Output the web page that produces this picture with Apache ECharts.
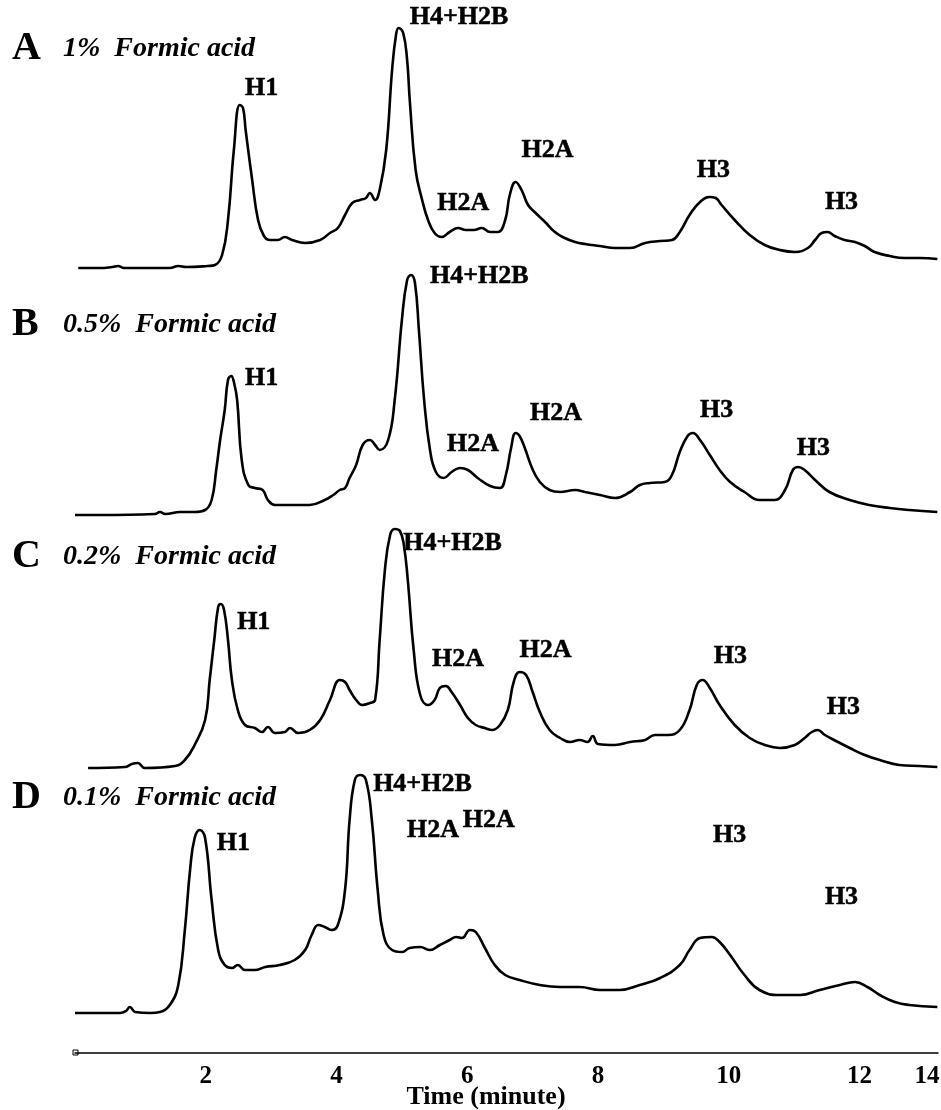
<!DOCTYPE html>
<html><head><meta charset="utf-8">
<script src="https://cdn.jsdelivr.net/npm/echarts@6/dist/echarts.min.js"></script>
<style>html,body{margin:0;padding:0;background:#fff}#c{width:941px;height:1110px}</style>
</head><body><div id="c"></div>
<script>
// Time axis tick labels (minutes)
const tickLabels = [2, 4, 6, 8, 10, 12];
const endLabel = '14';

// Chromatogram traces: [time (min), signal (arb. units above panel floor)]
const traceA = [[0.05,7],[0.38,7],[0.57,8],[0.66,9],[0.75,7],[1.45,7],[1.58,9],[1.70,8],[2.03,9],[2.14,10],[2.25,20],[2.34,55],[2.43,125],[2.52,170],[2.57,167],[2.61,145],[2.71,95],[2.80,55],[2.89,39],[2.98,35],[3.10,35],[3.21,38],[3.32,35],[3.52,32],[3.75,35],[3.90,42],[4.02,47],[4.13,60],[4.24,72],[4.36,75],[4.45,77],[4.51,82],[4.59,75],[4.66,85],[4.76,125],[4.85,205],[4.91,240],[4.95,247],[5.02,242],[5.08,215],[5.12,175],[5.21,105],[5.31,75],[5.40,55],[5.50,42],[5.61,38],[5.73,43],[5.86,47],[5.98,45],[6.10,45],[6.22,47],[6.35,43],[6.47,43],[6.58,55],[6.65,80],[6.74,93],[6.83,85],[6.93,70],[7.03,63],[7.19,53],[7.34,43],[7.49,37],[7.65,33],[7.80,31],[8.03,29],[8.26,27],[8.49,27],[8.72,32],[8.95,34],[9.13,35],[9.25,43],[9.40,60],[9.56,73],[9.71,78],[9.80,77],[9.89,70],[10.09,55],[10.32,40],[10.55,30],[10.78,25],[11.01,23],[11.21,27],[11.32,35],[11.42,42],[11.51,43],[11.62,39],[11.77,35],[11.93,33],[12.08,29],[12.23,23],[12.46,19],[12.69,17],[12.92,17],[13.19,16]];
const traceB = [[0.0,5],[0.38,5],[1.22,6],[1.30,8],[1.38,6],[1.61,8],[1.83,8],[1.99,10],[2.09,20],[2.16,50],[2.22,80],[2.29,110],[2.34,140],[2.39,144],[2.43,138],[2.48,120],[2.55,60],[2.65,35],[2.75,32],[2.87,30],[2.95,20],[3.06,15],[3.29,15],[3.59,15],[3.82,20],[3.95,25],[4.05,30],[4.13,32],[4.20,42],[4.30,55],[4.40,75],[4.51,80],[4.59,75],[4.66,70],[4.79,80],[4.89,120],[5.00,200],[5.08,240],[5.14,245],[5.20,237],[5.26,190],[5.34,120],[5.43,70],[5.52,48],[5.64,42],[5.76,48],[5.89,52],[6.01,50],[6.16,42],[6.35,34],[6.50,32],[6.59,45],[6.67,72],[6.74,87],[6.80,84],[6.88,72],[6.99,52],[7.11,38],[7.26,30],[7.42,28],[7.65,30],[7.80,28],[8.03,25],[8.26,22],[8.49,28],[8.64,35],[8.79,37],[9.02,38],[9.13,45],[9.25,68],[9.37,84],[9.45,87],[9.56,80],[9.71,65],[9.86,50],[10.02,38],[10.24,28],[10.47,20],[10.70,20],[10.86,30],[10.98,50],[11.06,53],[11.16,50],[11.32,40],[11.54,28],[11.85,20],[12.15,15],[12.46,12],[12.76,10],[13.19,8]];
const traceC = [[0.20,7],[0.76,8],[0.87,11],[0.96,12],[1.07,7],[1.53,9],[1.68,15],[1.83,30],[1.99,55],[2.06,95],[2.13,135],[2.19,168],[2.23,171],[2.28,165],[2.34,135],[2.40,95],[2.49,65],[2.60,50],[2.75,47],[2.86,43],[2.95,48],[3.06,42],[3.21,43],[3.29,47],[3.41,42],[3.59,45],[3.75,55],[3.90,75],[4.05,95],[4.13,93],[4.20,85],[4.30,75],[4.39,70],[4.51,72],[4.59,75],[4.66,135],[4.74,205],[4.82,240],[4.89,246],[4.97,244],[5.03,230],[5.09,195],[5.18,125],[5.28,80],[5.40,70],[5.50,75],[5.58,87],[5.67,89],[5.76,83],[5.89,70],[6.01,57],[6.13,50],[6.27,47],[6.38,45],[6.50,50],[6.62,65],[6.71,93],[6.80,103],[6.90,100],[7.00,83],[7.11,63],[7.26,45],[7.42,37],[7.57,33],[7.72,35],[7.84,33],[7.92,39],[8.00,31],[8.26,30],[8.49,33],[8.72,35],[8.87,40],[9.07,40],[9.25,45],[9.40,65],[9.51,90],[9.60,95],[9.71,87],[9.86,70],[10.09,50],[10.32,37],[10.55,30],[10.78,27],[11.01,30],[11.16,37],[11.27,43],[11.36,45],[11.47,40],[11.67,33],[11.85,27],[12.08,20],[12.31,15],[12.61,10],[12.92,9],[13.19,8]];
const traceD = [[0.00,40],[0.69,40],[0.78,42],[0.84,46],[0.92,41],[1.15,40],[1.30,41],[1.45,48],[1.58,68],[1.68,123],[1.76,183],[1.83,215],[1.91,223],[1.99,215],[2.09,153],[2.19,103],[2.29,88],[2.40,85],[2.49,88],[2.60,83],[2.75,83],[2.91,86],[3.13,88],[3.36,93],[3.52,103],[3.62,118],[3.72,128],[3.82,126],[3.93,123],[4.02,128],[4.13,163],[4.20,233],[4.28,273],[4.36,278],[4.45,273],[4.54,233],[4.63,163],[4.72,118],[4.85,103],[5.00,101],[5.12,105],[5.28,106],[5.43,103],[5.58,108],[5.73,113],[5.83,116],[5.92,115],[6.04,123],[6.13,121],[6.27,105],[6.42,88],[6.58,78],[6.80,73],[7.11,68],[7.42,66],[7.72,66],[8.03,63],[8.33,63],[8.64,68],[8.95,75],[9.25,88],[9.40,103],[9.56,115],[9.74,116],[9.86,111],[10.02,98],[10.24,78],[10.47,63],[10.78,58],[11.09,58],[11.39,63],[11.70,68],[11.93,71],[12.12,66],[12.31,58],[12.54,51],[12.76,48],[13.19,46]];

// Peak annotations: [label, time of label's left edge, signal at label centre]
const peaksA = [['H1',2.60,187],['H4+H2B',5.12,258],['H2A',5.54,72],['H2A',6.83,125],['H3',9.51,105],['H3',11.47,73]];
const peaksB = [['H1',2.60,142],['H4+H2B',5.43,244],['H2A',5.69,76],['H2A',6.96,107],['H3',9.56,110],['H3',11.04,72]];
const peaksC = [['H1',2.48,153],['H4+H2B',5.02,232],['H2A',5.46,116],['H2A',6.80,125],['H3',9.77,119],['H3',11.50,68]];
const peaksD = [['H1',2.17,210],['H4+H2B',4.56,269],['H2A',5.08,223],['H2A',5.93,233],['H3',9.76,218],['H3',11.47,156]];

const panelLetters = ['A', 'B', 'C', 'D'];
const conditions = ['1%  Formic acid', '0.5%  Formic acid', '0.2%  Formic acid', '0.1%  Formic acid'];
const traces = [traceA, traceB, traceC, traceD];
const peaks = [peaksA, peaksB, peaksC, peaksD];

// ---- layout (pixels) ----
const SERIF = "'Liberation Serif', 'Times New Roman', 'DejaVu Serif', serif";
const gridBox = [
  {top: 20, height: 255, ymax: 255},
  {top: 265, height: 255, ymax: 255},
  {top: 520, height: 255, ymax: 255},
  {top: 763, height: 290, ymax: 290}
];
const titleY = [49, 325, 557, 798];
const X_MIN = 0, X_MAX = 13.2, LEFT = 75, RIGHT = 3;

const grid = [], xAxis = [], yAxis = [], series = [], graphic = [];
gridBox.forEach((g, i) => {
  grid.push({left: LEFT, right: RIGHT, top: g.top, height: g.height});
  xAxis.push({type: 'value', gridIndex: i, min: X_MIN, max: X_MAX, show: false});
  yAxis.push({type: 'value', gridIndex: i, min: 0, max: g.ymax, show: false});
  series.push({
    type: 'line', xAxisIndex: i, yAxisIndex: i, data: traces[i],
    showSymbol: false, smooth: 0.45, clip: false,
    lineStyle: {color: '#000', width: 2.6}, animation: false
  });
  series.push({
    type: 'scatter', xAxisIndex: i, yAxisIndex: i, symbolSize: 0, clip: false, animation: false,
    itemStyle: {color: '#000', opacity: 1},
    data: peaks[i].map(p => ({name: p[0], value: [p[1], p[2]]})),
    label: {show: true, position: 'right', distance: 0, formatter: '{b}', color: '#000', opacity: 1,
      textBorderColor: '#000', textBorderWidth: 0.5,
      fontFamily: SERIF, fontWeight: 'bold', fontSize: 26},
    silent: true
  });
  graphic.push({type: 'text', x: 12, y: titleY[i],
    style: {text: panelLetters[i], font: "bold 40px " + SERIF, fill: '#000', textVerticalAlign: 'middle'}});
  graphic.push({type: 'text', x: 63, y: titleY[i],
    style: {text: conditions[i], font: "italic bold 28px " + SERIF, fill: '#000', textVerticalAlign: 'middle'}});
});

// bottom time axis
grid.push({left: LEFT, right: RIGHT, top: 1013, height: 40});
xAxis.push({
  type: 'value', gridIndex: 4, min: X_MIN, max: X_MAX, interval: 2,
  axisLine: {show: true, lineStyle: {color: '#000', width: 1.5}},
  axisTick: {show: false}, splitLine: {show: false},
  axisLabel: {color: '#000', fontFamily: SERIF, fontWeight: 'bold', fontSize: 25, margin: 11,
    formatter: v => (tickLabels.indexOf(v) >= 0 ? String(v) : '')}
});
yAxis.push({type: 'value', gridIndex: 4, min: 0, max: 1, show: false});
graphic.push({type: 'rect', shape: {x: 73, y: 1050, width: 5, height: 5},
  style: {fill: '#fff', stroke: '#000', lineWidth: 1}});
graphic.push({type: 'text', x: 927, y: 1064,
  style: {text: endLabel, font: "bold 25px " + SERIF, fill: '#000', textAlign: 'center', textVerticalAlign: 'top'}});
graphic.push({type: 'text', x: 486, y: 1097,
  style: {text: 'Time (minute)', font: "bold 26px " + SERIF, fill: '#000', textAlign: 'center', textVerticalAlign: 'middle'}});

const chart = echarts.init(document.getElementById('c'), null, {renderer: 'canvas'});
chart.setOption({backgroundColor: '#fff', animation: false, grid, xAxis, yAxis, series, graphic});
</script></body></html>
